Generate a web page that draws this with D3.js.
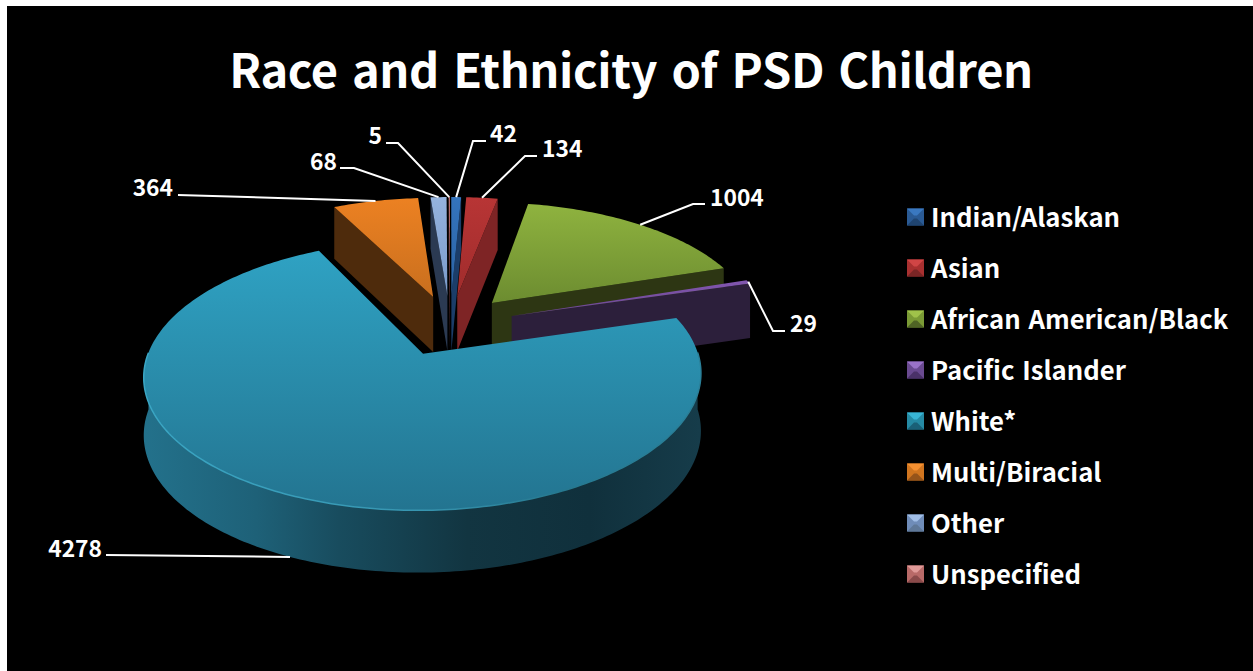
<!DOCTYPE html>
<html><head><meta charset="utf-8">
<script src="https://cdn.jsdelivr.net/npm/d3@7/dist/d3.min.js"></script>
<style>
html,body{margin:0;padding:0;background:#fff;overflow:hidden}
svg{display:block}
text{font-family:"Noto Sans CJK KR","Open Sans",sans-serif;font-weight:700;fill:#fff}
</style></head><body>
<svg id="c" width="1253" height="671"></svg>
<script>
const titleText = "Race and Ethnicity of PSD Children";
const categories = ["Indian/Alaskan","Asian","African American/Black","Pacific Islander","White*","Multi/Biracial","Other","Unspecified"];
const values = [42,134,1004,29,4278,364,68,5];
const topLight = ["#3474bd","#b83535","#8fb33f","#8257b0","#2fa2c3","#ec8122","#95b3de","#d07a78"];
const topDark  = ["#2a62a3","#a02c2c","#6c8c30","#6a4590","#237490","#c96f1e","#7a9aca","#b06060"];
const wallCol  = ["#1b3d69","#7e2425","#2d3613","#2c1f3b","#12343f","#4e2b0c","#2b3a52","#5a2e2e"];
const legendLight = ["#3a78c0","#d04545","#a0c24a","#9a72c8","#38b4d4","#f59030","#a0bde6","#e09a98"];
const legendDark  = ["#1f4470","#7a2525","#4f6425","#4a3168","#1a6077","#96541a","#5f7898","#8a4a4a"];
const legendMid   = ["#2a5a94","#a83030","#7a9a35","#6a4a90","#258aa4","#d0751f","#6f8cb8","#b86a68"];

// annotation layout: [elbow x,y, end x,y, label x,y, anchor]
const leaderLayout = [
 [473,141, 486,141, 490,132,"start"],
 [525,156, 537,156, 542,147,"start"],
 [693,204, 705,204, 710,196,"start"],
 [773,331, 785,331, 790,322,"start"],
 [296,558, 106,555, 102,547,"end"],
 [374,197, 178,195, 173,186,"end"],
 [354,168, 340,168, 337,160,"end"],
 [398,143, 386,143, 382,134,"end"]
];

const svg = d3.select("#c");
const defs = svg.append("defs");
svg.append("rect").attr("x",7).attr("y",6).attr("width",1246).attr("height",665).attr("fill","#000");

svg.append("text").attr("x",631).attr("y",88).attr("text-anchor","middle")
  .attr("font-size",47).style("letter-spacing","-0.4px").style("word-spacing","4px").text(titleText);

// --- pie geometry with a perspective projection of the disc
const cx=450, cy=325, R=268, xScale=0.99, explode=66, tilt=0.457, persp=0.155, depth=56;
const pie = d3.pie().sort(null).startAngle(0).endAngle(2*Math.PI);
const arcs = pie(values);
const proj=(X,Y,z)=>{
  const w=1-persp*Y/R;
  return [cx+xScale*X/w, cy+tilt*Y/w+(z?depth/Math.sqrt(w):0)];
};
const toDisc=(a,r,off)=>[off[0]+r*Math.sin(a), off[1]-r*Math.cos(a)];
const line=d3.line();

const slices = arcs.map((d,i)=>{
  const mid=(d.startAngle+d.endAngle)/2;
  const off=[explode*Math.sin(mid),-explode*Math.cos(mid)];
  const n=Math.max(2,Math.ceil((d.endAngle-d.startAngle)/(Math.PI/180)));
  const angles=d3.range(n+1).map(k=>d.startAngle+(d.endAngle-d.startAngle)*k/n);
  return {i,d,mid,off,angles,depthKey:toDisc(mid,R*0.6,off)[1]};
}).sort((a,b)=>d3.ascending(a.depthKey,b.depthKey));

categories.forEach((c,i)=>{
  const g=defs.append("linearGradient").attr("id","top"+i).attr("x1",0).attr("y1",0).attr("x2",0).attr("y2",1);
  g.append("stop").attr("offset",0).attr("stop-color",topLight[i]);
  g.append("stop").attr("offset",1).attr("stop-color",topDark[i]);
});
const wg=defs.append("linearGradient").attr("id","whiteWall").attr("gradientUnits","userSpaceOnUse")
  .attr("x1",145).attr("y1",0).attr("x2",700).attr("y2",0);
[[0,"#23718b"],[0.2,"#1e6178"],[0.35,"#184c5e"],[0.58,"#123541"],[0.8,"#10303c"],[1,"#163c4a"]]
 .forEach(s=>wg.append("stop").attr("offset",s[0]).attr("stop-color",s[1]));
const rg=defs.append("linearGradient").attr("id","rimLight").attr("gradientUnits","userSpaceOnUse")
  .attr("x1",145).attr("y1",0).attr("x2",700).attr("y2",0);
[[0,"#3aa6c4"],[0.5,"#3795b0"],[0.75,"#26788f"],[1,"#2a8099"]]
 .forEach(s=>rg.append("stop").attr("offset",s[0]).attr("stop-color",s[1]));

const plot=svg.append("g");
slices.forEach(s=>{
  const {i,d,off,angles}=s;
  const apexT=proj(off[0],off[1],false), apexB=proj(off[0],off[1],true);
  const edge=(a,z)=>{const p=toDisc(a,R,off);return proj(p[0],p[1],z);};
  const wall=i===4?"url(#whiteWall)":wallCol[i];
  if(Math.sin(d.startAngle)<-1e-6)
    plot.append("path").attr("d",line([apexT,edge(d.startAngle,false),edge(d.startAngle,true),apexB])+"Z").attr("fill",wall);
  if(Math.sin(d.endAngle)>1e-6)
    plot.append("path").attr("d",line([apexT,edge(d.endAngle,false),edge(d.endAngle,true),apexB])+"Z").attr("fill",wall);
  const vis=angles.filter(a=>Math.cos(a)<0.02);
  if(vis.length>1){
    const t=vis.map(a=>edge(a,false)), b=vis.map(a=>edge(a,true)).reverse();
    plot.append("path").attr("d",line(t.concat(b))+"Z").attr("fill",wall);
  }
  const rim=angles.map(a=>edge(a,false));
  plot.append("path").attr("d",line([apexT].concat(rim))+"Z").attr("fill",`url(#top${i})`);
  if(vis.length>1)
    plot.append("path").attr("d",line(vis.map(a=>edge(a,false)))).attr("fill","none").attr("stroke","url(#rimLight)").attr("stroke-width",1.5);
});

// --- leader lines and labels
const labels=svg.append("g");
arcs.forEach((d,i)=>{
  const mid=(d.startAngle+d.endAngle)/2;
  const off=[explode*Math.sin(mid),-explode*Math.cos(mid)];
  const p=toDisc(mid,R,off);
  const nearSide=Math.cos(mid)<-0.5;
  const a=proj(p[0],p[1],nearSide);
  const L=leaderLayout[i];
  const pts= i===4||i===5 ? [a,[L[2],L[3]]] : [a,[L[0],L[1]],[L[2],L[3]]];
  labels.append("path").attr("d",line(pts)).attr("fill","none").attr("stroke","#fff").attr("stroke-width",2);
  labels.append("text").attr("x",L[4]).attr("y",L[5]).attr("text-anchor",L[6])
    .attr("dominant-baseline","central").attr("font-size",22.8).text(values[i]);
});

// --- legend
const ly=d3.scalePoint().domain(categories).range([217,574]);
const legend=svg.append("g");
categories.forEach((c,i)=>{
  const x0=907,s=17,y0=ly(c)-s/2,m=7;
  const g=legend.append("g");
  const o=[x0,y0],p=[x0+s,y0],q=[x0+s,y0+s],r=[x0,y0+s];
  const a=[x0+m,y0+m],b=[x0+s-m,y0+m],e=[x0+s-m,y0+s-m],f=[x0+m,y0+s-m];
  g.append("rect").attr("x",x0).attr("y",y0).attr("width",s).attr("height",s).attr("fill",legendMid[i]);
  g.append("path").attr("d",line([o,p,b,a])+"Z").attr("fill",legendLight[i]);
  g.append("path").attr("d",line([r,q,e,f])+"Z").attr("fill",legendDark[i]);
  legend.append("text").attr("x",931).attr("y",ly(c)-2).attr("dominant-baseline","central")
    .attr("font-size",25.7).style("word-spacing","2px").text(c);
});
</script></body></html>
